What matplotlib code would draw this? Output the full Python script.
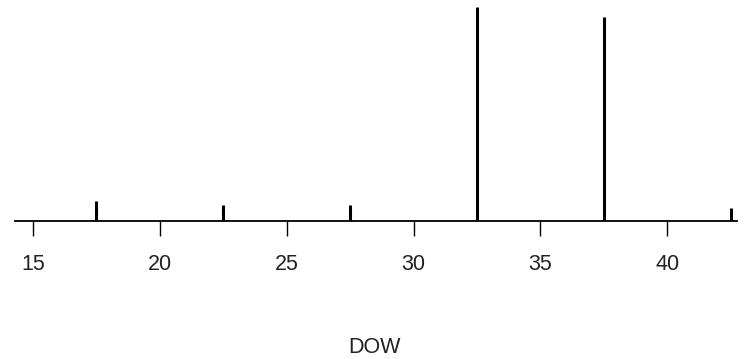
import matplotlib
matplotlib.use("Agg")
import matplotlib.pyplot as plt

# Data
dow = [17.5, 22.5, 27.5, 32.5, 37.5, 42.5]
counts = [6.2, 4.9, 4.9, 66, 63, 4.0]
xticks = [15, 20, 25, 30, 35, 40]

plt.rcParams['font.family'] = ['Liberation Sans', 'DejaVu Sans']

fig = plt.figure(figsize=(7.45, 3.59), dpi=100)
ax = fig.add_axes([15/745, 138/359, (737-15)/745, (221-7)/359])

ax.vlines(dow, 0, counts, color='black', linewidth=2.2)

ax.set_xlim(14.29, 42.75)
ax.set_ylim(0, 66)
for s in ['top', 'right', 'left']:
    ax.spines[s].set_visible(False)
ax.spines['bottom'].set_linewidth(1.3)
ax.set_yticks([])
ax.set_xticks(xticks)
ax.set_xticklabels([str(t) for t in xticks])
ax.tick_params(axis='x', length=11, width=1.0, pad=13, labelsize=15.5, labelcolor='#222222')

fig.text(374/745, 6/359, 'DOW', ha='center', va='baseline', fontsize=15.5, color='#222222')

fig.savefig('out.png', dpi=100)
